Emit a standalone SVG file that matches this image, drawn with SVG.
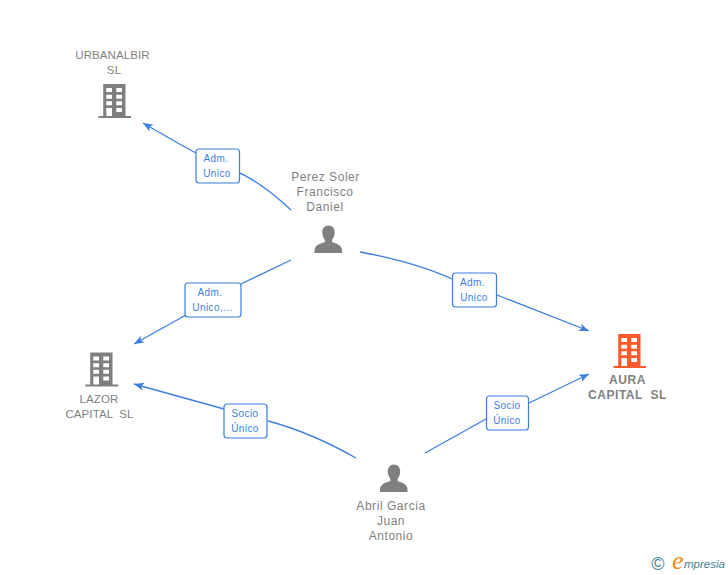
<svg xmlns="http://www.w3.org/2000/svg" width="728" height="575" viewBox="0 0 728 575">
<style>
text{font-family:"Liberation Sans",Arial,sans-serif}
.n{font-size:12px;fill:#7f7f7f;text-anchor:middle;letter-spacing:.55px}
.k{font-size:11.500px;letter-spacing:.1px}
.b{font-weight:bold}
.l{font-size:10px;fill:#3b7fe0;text-anchor:middle;letter-spacing:.4px}
.c{fill:none;stroke:#3b7fe0;stroke-width:1.3}
.box{fill:#fff;stroke:#3b7fe0;stroke-width:1.2}
</style>
<defs>
<marker id="a" markerUnits="userSpaceOnUse" markerWidth="14" markerHeight="12" refX="10" refY="5" orient="auto"><path d="M0 1L10 5L0 9L2.500 5Z" fill="#3b7fe0"/></marker>
<path id="bld" fill-rule="evenodd" d="M4.700 0H27V32H32.500V34H0V32H4.700ZM7.800 4V8H13.500V4ZM17.800 4V8H23.500V4ZM7.800 10.700V14.700H13.500V10.700ZM17.800 10.700V14.700H23.500V10.700ZM7.800 17.300V21.300H13.500V17.300ZM17.800 17.300V21.300H23.500V17.300ZM7.800 24V32H13.500V24ZM17.800 24V28H23.500V24Z"/>
<path id="per" d="M14 0C18 0 20.200 3 20.200 7C20.200 10.500 18.600 13 17.600 14.500V16.500C20 18 27 18.500 27.500 24.500V27.500H0V24.500C.5 18.500 8 18 10.400 16.500V14.500C9.400 13 7.800 10.500 7.800 7C7.800 3 10 0 14 0Z"/>
</defs>
<g id="connectors">
<path class="c" marker-end="url(#a)" d="M291 210Q250 172 218 165Q180 145 143 123"/>
<path class="c" marker-end="url(#a)" d="M291 260L241 284M186 315L134 344"/>
<path class="c" marker-end="url(#a)" d="M360 252Q415 262 452 279M497 295L589 331"/>
<path class="c" marker-end="url(#a)" d="M356 458Q310 432 268 421M224 409L134 384"/>
<path class="c" marker-end="url(#a)" d="M425 453L486 419M529 403L589 374"/>
</g>
<g id="label1"><rect class="box" x="196" y="149" width="43.500" height="34" rx="3"/><text class="l" x="216" y="162">Adm.</text><text class="l" x="217" y="177">Unico</text></g>
<g id="label2"><rect class="box" x="185" y="283" width="56" height="34" rx="3"/><text class="l" x="210" y="296">Adm.</text><text class="l" x="212.500" y="311">Unico,...</text></g>
<g id="label3"><rect class="box" x="452.500" y="273" width="44" height="34" rx="3"/><text class="l" x="472.500" y="286">Adm.</text><text class="l" x="474" y="301">Unico</text></g>
<g id="label4"><rect class="box" x="224" y="404" width="43" height="34" rx="3"/><text class="l" x="245" y="417">Socio</text><text class="l" x="245" y="432">Único</text></g>
<g id="label5"><rect class="box" x="486.500" y="396" width="42" height="34" rx="3"/><text class="l" x="507" y="409">Socio</text><text class="l" x="507" y="424">Único</text></g>
<g id="urbanalbir"><text class="n k" x="112.500" y="59">URBANALBIR</text><text class="n k" x="114" y="74">SL</text><use href="#bld" x="98.500" y="84" fill="#7f7f7f"/></g>
<g id="lazor"><use href="#bld" x="85.500" y="352.500" fill="#7f7f7f"/><text class="n k" x="99" y="403">LAZOR</text><text class="n k" x="99.500" y="418" xml:space="preserve">CAPITAL  SL</text></g>
<g id="aura"><use href="#bld" x="613.500" y="334" fill="#ff5a2b"/><text class="n b" x="627.500" y="384">AURA</text><text class="n b" x="627.500" y="399" xml:space="preserve">CAPITAL  SL</text></g>
<g id="perez"><text class="n" x="325.500" y="181">Perez Soler</text><text class="n" x="325" y="196">Francisco</text><text class="n" x="325" y="211">Daniel</text><use href="#per" x="314.500" y="225.500" fill="#7f7f7f"/></g>
<g id="abril"><use href="#per" x="380" y="464.500" fill="#7f7f7f"/><text class="n" x="391" y="510">Abril Garcia</text><text class="n" x="391" y="525">Juan</text><text class="n" x="391" y="540">Antonio</text></g>
<g id="brand"><text x="658" y="570" font-size="18" fill="#3f7f96" text-anchor="middle">©</text><text x="672" y="569" font-size="26" font-style="italic" fill="#f08a1d" style="font-family:'Liberation Serif',serif">e</text><text x="684" y="568" font-size="11.500" font-style="italic" fill="#3f7f96">mpresia</text></g>
</svg>
